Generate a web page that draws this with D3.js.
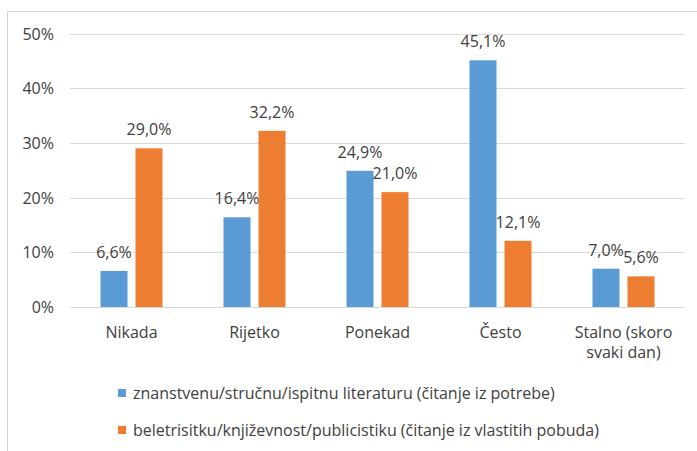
<!DOCTYPE html>
<html>
<head>
<meta charset="utf-8">
<script src="https://cdn.jsdelivr.net/npm/d3@7"></script>
<style>
  body { margin: 0; background: #fff; }
  text { font-family: "Open Sans", sans-serif; fill: #404040; font-size: 16px; }
</style>
</head>
<body>
<svg id="chart" width="697" height="451"></svg>
<script>
// podaci
var kategorije = ["Nikada", "Rijetko", "Ponekad", "Često", "Stalno (skoro svaki dan)"];
var znanstvena = [6.6, 16.4, 24.9, 45.1, 7.0];
var beletristika = [29.0, 32.2, 21.0, 12.1, 5.6];
var serije = ["znanstvenu/stručnu/ispitnu literaturu (čitanje iz potrebe)",
  "beletrisitku/književnost/publicistiku (čitanje iz vlastitih pobuda)"];
var boje = ["#5B9BD5", "#ED7D31"];
var yTicks = [0, 10, 20, 30, 40, 50];

var svg = d3.select("#chart");

// okvir
svg.append("path")
  .attr("d", "M7.5,451 V11.5 H697")
  .attr("fill", "none")
  .attr("stroke", "#D4D4D4")
  .attr("stroke-width", 1);

var x = d3.scaleBand().domain(kategorije).range([70, 685]);
var y = d3.scaleLinear().domain([0, 50]).range([307, 33.5]);

// mreza
svg.selectAll(".grid").data(yTicks).enter().append("line")
  .attr("x1", 70).attr("x2", 685)
  .attr("y1", d => Math.round(y(d)) + 0.5).attr("y2", d => Math.round(y(d)) + 0.5)
  .attr("stroke", "#D9D9D9");

svg.selectAll(".ylab").data(yTicks).enter().append("text")
  .attr("x", 54).attr("y", d => y(d) + 6)
  .attr("text-anchor", "end")
  .text(d => d + "%");

var sirina = 27, razmak = 8;
var nizovi = [znanstvena, beletristika];

nizovi.forEach(function (niz, s) {
  var pomak = s == 0 ? -(razmak / 2 + sirina) : razmak / 2;
  svg.selectAll(".bar" + s).data(niz).enter().append("rect")
    .attr("x", (d, i) => x(kategorije[i]) + x.bandwidth() / 2 + pomak)
    .attr("y", d => y(d))
    .attr("width", sirina)
    .attr("height", d => y(0) - y(d))
    .attr("fill", boje[s]);
  svg.selectAll(".lab" + s).data(niz).enter().append("text")
    .attr("x", (d, i) => x(kategorije[i]) + x.bandwidth() / 2 + pomak + sirina / 2)
    .attr("y", d => y(d) - 13)
    .attr("text-anchor", "middle")
    .text(d => d.toFixed(1).replace(".", ",") + "%");
});

// kategorije
kategorije.forEach(function (k) {
  var cx = x(k) + x.bandwidth() / 2;
  var t = svg.append("text")
    .attr("x", cx)
    .attr("y", 338)
    .attr("text-anchor", "middle");
  if (k.indexOf("(") > 0) {
    t.append("tspan").attr("x", cx).text("Stalno (skoro");
    t.append("tspan").attr("x", cx).attr("dy", 20).text("svaki dan)");
  } else {
    t.text(k);
  }
});

// legenda
serije.forEach(function (s, i) {
  var ly = 393 + i * 37;
  svg.append("rect")
    .attr("x", 118).attr("y", ly - 4)
    .attr("width", 8).attr("height", 8)
    .attr("fill", boje[i]);
  svg.append("text")
    .attr("x", 133).attr("y", ly + 6)
    .text(s);
});
</script>
</body>
</html>
